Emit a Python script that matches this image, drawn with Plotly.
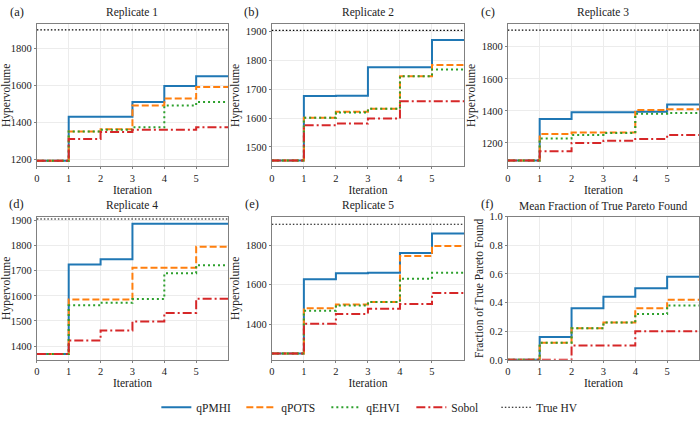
import plotly.graph_objects as go

# ---------------- data ----------------
ITERATIONS = [0, 1, 2, 3, 4, 5]
X_END = 6
METHODS = ["qPMHI", "qPOTS", "qEHVI", "Sobol"]
PANEL_LABELS = ["(a)", "(b)", "(c)", "(d)", "(e)", "(f)"]
PANEL_TITLES = ["Replicate 1", "Replicate 2", "Replicate 3", "Replicate 4",
                "Replicate 5", "Mean Fraction of True Pareto Found"]

# Replicate 1
R1_QPMHI = [1195, 1432, 1432, 1512, 1598, 1650]
R1_QPOTS = [1195, 1352, 1365, 1492, 1530, 1592]
R1_QEHVI = [1195, 1352, 1362, 1375, 1492, 1512]
R1_SOBOL = [1195, 1312, 1350, 1362, 1362, 1375]
# Replicate 2
R2_QPMHI = [1453, 1676, 1677, 1776, 1776, 1871]
R2_QPOTS = [1453, 1601, 1622, 1632, 1745, 1784]
R2_QEHVI = [1453, 1601, 1619, 1632, 1745, 1768]
R2_SOBOL = [1453, 1575, 1581, 1598, 1658, 1658]
# Replicate 3
R3_QPMHI = [1090, 1350, 1392, 1392, 1395, 1440]
R3_QPOTS = [1090, 1255, 1265, 1265, 1405, 1410]
R3_QEHVI = [1090, 1228, 1250, 1262, 1382, 1387]
R3_SOBOL = [1090, 1148, 1200, 1213, 1225, 1250]
# Replicate 4
R4_QPMHI = [1368, 1725, 1746, 1887, 1887, 1887]
R4_QPOTS = [1368, 1585, 1585, 1712, 1712, 1795]
R4_QEHVI = [1368, 1562, 1572, 1587, 1690, 1722]
R4_SOBOL = [1368, 1422, 1462, 1498, 1532, 1588]
# Replicate 5
R5_QPMHI = [1252, 1627, 1657, 1660, 1760, 1858]
R5_QPOTS = [1252, 1480, 1500, 1512, 1745, 1795]
R5_QEHVI = [1252, 1468, 1495, 1512, 1630, 1660]
R5_SOBOL = [1252, 1402, 1452, 1478, 1502, 1558]
# Mean fraction of true Pareto found
F_QPMHI = [0.0, 0.16, 0.36, 0.44, 0.50, 0.58]
F_QPOTS = [0.0, 0.12, 0.22, 0.26, 0.36, 0.42]
F_QEHVI = [0.0, 0.12, 0.22, 0.26, 0.32, 0.38]
F_SOBOL = [0.0, 0.0, 0.10, 0.10, 0.20, 0.20]

TRUE_HV = [1900, 1904, 1904, 1906, 1905]

Y_RANGES = [[1164, 1930], [1432, 1925], [1053, 1940],
            [1345, 1915], [1220, 1943], [0, 1.0]]
Y_TICKS = [[1200, 1400, 1600, 1800], [1500, 1600, 1700, 1800, 1900],
           [1200, 1400, 1600, 1800], [1400, 1500, 1600, 1700, 1800, 1900],
           [1400, 1600, 1800], [0.0, 0.2, 0.4, 0.6, 0.8, 1.0]]
Y_TITLES = ["Hypervolume"] * 5 + ["Fraction of True Pareto Found"]

PANELS = [
    [R1_QPMHI, R1_QPOTS, R1_QEHVI, R1_SOBOL],
    [R2_QPMHI, R2_QPOTS, R2_QEHVI, R2_SOBOL],
    [R3_QPMHI, R3_QPOTS, R3_QEHVI, R3_SOBOL],
    [R4_QPMHI, R4_QPOTS, R4_QEHVI, R4_SOBOL],
    [R5_QPMHI, R5_QPOTS, R5_QEHVI, R5_SOBOL],
    [F_QPMHI, F_QPOTS, F_QEHVI, F_SOBOL],
]

# ---------------- style ----------------
W, H = 700, 422
FONT = "Liberation Serif"
COLORS = {"qPMHI": "#1f77b4", "qPOTS": "#ff7f0e", "qEHVI": "#2ca02c",
          "Sobol": "#d62728"}
DASHES = {"qPMHI": "solid", "qPOTS": "7px,3px", "qEHVI": "2px,3px",
          "Sobol": "9px,3px,2px,3px"}
COL_X = [(34, 226), (270, 463), (507, 699)]
ROW_Y = [(20, 167), (219, 367)]

fig = go.Figure()
x_steps = ITERATIONS + [X_END]

for p, series in enumerate(PANELS):
    r, c = divmod(p, 3)
    ax = "" if p == 0 else str(p + 1)
    xa, ya = "x" + ax, "y" + ax
    for name, vals in zip(METHODS, series):
        fig.add_trace(go.Scatter(
            x=x_steps, y=vals + [vals[-1]], mode="lines", line_shape="hv",
            line=dict(color=COLORS[name], width=2, dash=DASHES[name]),
            name=name, legendgroup=name, showlegend=(p == 0),
            xaxis=xa, yaxis=ya))
    if p < 5:
        fig.add_trace(go.Scatter(
            x=[0, X_END], y=[TRUE_HV[p], TRUE_HV[p]], mode="lines",
            line=dict(color="black", width=1.1, dash="1.5px,2px"),
            name="True HV", legendgroup="True HV", showlegend=(p == 0),
            xaxis=xa, yaxis=ya))

    x0, x1 = COL_X[c]
    y0, y1 = ROW_Y[r]
    axis_common = dict(showline=True, mirror=True, linecolor="#808080",
                       linewidth=1, showgrid=True, gridcolor="#ececec",
                       gridwidth=0.8, ticks="outside", ticklen=2,
                       tickcolor="#808080", zeroline=False,
                       tickfont=dict(family=FONT, size=10.5, color="#222"))
    fig.layout["xaxis" + ax] = dict(
        axis_common, domain=[x0 / W, x1 / W], range=[0, X_END],
        tickvals=ITERATIONS, anchor=ya,
        title=dict(text="Iteration", standoff=0,
                   font=dict(family=FONT, size=11.5, color="#222")))
    fig.layout["yaxis" + ax] = dict(
        axis_common, domain=[1 - y1 / H, 1 - y0 / H], range=Y_RANGES[p],
        tickvals=Y_TICKS[p],
        tickformat=".1f" if p == 5 else "d", anchor=xa,
        title=dict(text=Y_TITLES[p], standoff=3,
                   font=dict(family=FONT, size=11.5, color="#222")))
    # panel title
    fig.add_annotation(text=PANEL_TITLES[p], xref="paper", yref="paper",
                       x=(x0 + x1) / 2 / W, y=1 - (y0 - 3) / H,
                       xanchor="center", yanchor="bottom", showarrow=False,
                       font=dict(family=FONT, size=11.5, color="#222"))
    # panel label
    fig.add_annotation(text=PANEL_LABELS[p], xref="paper", yref="paper",
                       x=(x0 - 20) / W, y=1 - (y0 - 13) / H,
                       xanchor="center", yanchor="middle", showarrow=False,
                       font=dict(family=FONT, size=12.5, color="#222"))

fig.update_layout(
    width=W, height=H, margin=dict(l=0, r=0, t=0, b=0),
    paper_bgcolor="white", plot_bgcolor="white",
    font=dict(family=FONT, size=11, color="#222"),
    legend=dict(orientation="h", x=154 / W, xanchor="left", y=1 - 416 / H,
                yanchor="middle", entrywidth=40, entrywidthmode="pixels",
                font=dict(family=FONT, size=11.5, color="#222"),
                bgcolor="rgba(0,0,0,0)"),
)

fig.write_html("out.html")
